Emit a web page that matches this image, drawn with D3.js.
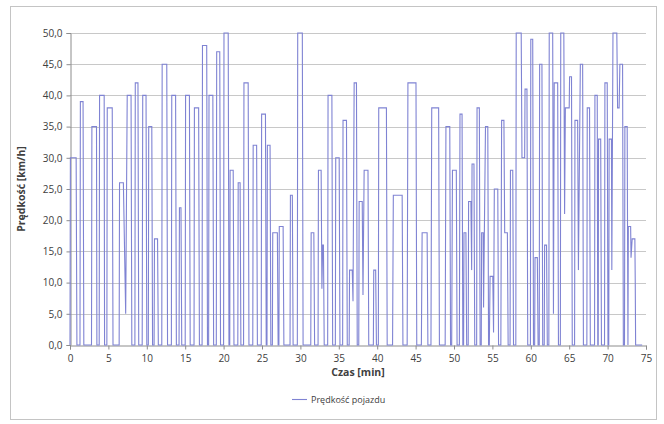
<!DOCTYPE html>
<html>
<head>
<meta charset="utf-8">
<script src="https://cdn.jsdelivr.net/npm/d3@7"></script>
<style>
  body { margin: 0; background: #ffffff; }
  svg { display: block; }
  text { font-family: "Open Sans", "Noto Sans", sans-serif; fill: #404040; }
</style>
</head>
<body>
<svg id="chart" width="664" height="424"></svg>
<script>
// ---- data ----
const timeMin = [
  0,0.05,0.8,0.9, 1.3,1.35,1.7,1.8, 2.8,2.85,3.45,3.5, 3.8,3.85,4.45,4.5,
  4.8,4.85,5.5,5.6, 6.4,6.45,6.95,7.25,7.45,7.95,8.05, 8.45,8.5,8.85,8.95,
  9.4,9.47,9.9,10.0, 10.2,10.25,10.65,10.75, 10.95,11.0,11.4,11.5,
  11.95,12.0,12.6,12.7, 13.2,13.25,13.75,13.85, 14.2,14.25,14.45,14.55,
  15.0,15.05,15.55,15.65, 16.15,16.2,16.75,16.85, 17.2,17.25,17.8,17.9,
  18.05,18.1,18.6,18.7, 19.05,19.1,19.5,19.6, 20.0,20.05,20.6,20.7,
  20.8,20.85,21.25,21.35, 21.85,21.9,22.15,22.25, 22.6,22.65,23.2,23.3,
  23.8,23.85,24.3,24.4, 24.9,24.95,25.45,25.55, 25.65,25.7,26.05,26.15,
  26.35,26.4,27.0,27.1, 27.2,27.25,27.75,27.85, 28.65,28.7,28.95,29.05,
  29.6,29.65,30.25,30.35, 31.35,31.4,31.75,31.85,
  32.3,32.35,32.7,32.8,32.9,33.0,33.1, 33.55,33.6,34.1,34.2,
  34.55,34.6,35.05,35.15, 35.5,35.55,36.0,36.1,
  36.35,36.4,36.75,36.85,37.0,37.3,37.4,
  37.6,37.65,38.05,38.15,38.3,38.8,38.9,
  39.5,39.55,39.8,39.9, 40.15,40.2,41.2,41.3, 42.0,42.1,43.25,43.35,
  43.9,44.0,45.05,45.15, 45.75,45.85,46.5,46.6, 47.0,47.1,48.0,48.1,
  48.85,48.95,49.45,49.55, 49.7,49.8,50.3,50.4, 50.7,50.78,51.05,51.15,
  51.25,51.3,51.55,51.65, 51.85,51.9,52.2,52.3,52.35,52.6,52.7,
  52.95,53.0,53.3,53.4, 53.55,53.6,53.8,53.85,54.1,54.4,54.5,
  54.6,54.7,55.05,55.15,55.25,55.7,55.8,
  56.1,56.2,56.5,56.6,56.95,57.05, 57.3,57.35,57.65,57.75,
  58.05,58.1,58.75,58.85,59.2,59.25,59.5,59.6,
  59.95,60.0,60.25,60.35, 60.5,60.55,60.85,60.95, 61.1,61.15,61.45,61.55,
  61.75,61.8,62.05,62.15, 62.35,62.4,62.85,62.95,63.05,63.5,63.6,
  63.85,63.9,64.3,64.4,64.5,65.0,65.05,65.3,65.4,
  65.7,65.75,66.1,66.2,66.45,66.75,66.85, 67.3,67.35,67.65,67.75,
  68.3,68.35,68.65,68.72,68.78,68.82,69.1,69.2,
  69.6,69.65,69.95,70.05, 70.15,70.2,70.5,70.55,70.7,71.2,71.3,71.5,71.6,71.95,72.05,
  72.2,72.25,72.55,72.65,72.7,73.0,73.05,73.2,73.55,73.6,73.65,74.5
];
const speedKmh = [
  0,30,30,0, 0,39,39,0, 0,35,35,0, 0,40,40,0,
  0,38,38,0, 0,26,26,5,40,40,0, 0,42,42,0,
  0,40,40,0, 0,35,35,0, 0,17,17,0,
  0,45,45,0, 0,40,40,0, 0,22,22,0,
  0,40,40,0, 0,38,38,0, 0,48,48,0,
  0,40,40,0, 0,47,47,0, 0,50,50,0,
  0,28,28,0, 0,26,26,0, 0,42,42,0,
  0,32,32,0, 0,37,37,0, 0,32,32,0,
  0,18,18,0, 0,19,19,0, 0,24,24,0,
  0,50,50,0, 0,18,18,0,
  0,28,28,9,16,16,0, 0,40,40,0,
  0,30,30,0, 0,36,36,0,
  0,12,12,7,42,42,0,
  0,23,23,8,28,28,0,
  0,12,12,0, 0,38,38,0, 0,24,24,0,
  0,42,42,0, 0,18,18,0, 0,38,38,0,
  0,35,35,0, 0,28,28,0, 0,37,37,0,
  0,18,18,0, 0,23,23,12,29,29,0,
  0,38,38,0, 0,18,18,6,35,35,0,
  0,11,11,2,25,25,0,
  0,36,36,18,18,0, 0,28,28,0,
  0,50,50,30,30,41,41,0,
  0,49,49,0, 0,14,14,0, 0,45,45,0,
  0,16,16,0, 0,50,50,5,42,42,0,
  0,50,50,21,38,38,43,43,0,
  0,36,36,12,45,45,0, 0,38,38,0,
  0,40,40,0,0,33,33,0,
  0,42,42,0, 0,33,33,12,50,50,38,38,45,45,0,
  0,35,35,0,19,19,14,17,17,10,0,0
];
const xTickValues = [0,5,10,15,20,25,30,35,40,45,50,55,60,65,70,75];
const yTickValues = [0,5,10,15,20,25,30,35,40,45,50];
const xTitle = "Czas [min]";
const yTitle = "Prędkość [km/h]";
const seriesName = "Prędkość pojazdu";

// ---- drawing ----
const svg = d3.select("#chart");
const W = 664, H = 424;
const plot = { left: 70, right: 646, top: 33, bottom: 345 };

svg.append("rect").attr("x", 0).attr("y", 0).attr("width", W).attr("height", H).attr("fill", "#ffffff");
svg.append("rect").attr("x", 10.5).attr("y", 6.5).attr("width", 646).attr("height", 413)
  .attr("fill", "none").attr("stroke", "#c4c4c4").attr("stroke-width", 1);

const x = d3.scaleLinear().domain([0, 75]).range([plot.left, plot.right]);
const y = d3.scaleLinear().domain([0, 50]).range([plot.bottom, plot.top]);

// gridlines
svg.append("g").selectAll("line").data(yTickValues.filter(v => v > 0)).join("line")
  .attr("x1", plot.left).attr("x2", plot.right)
  .attr("y1", d => Math.round(y(d)) + 0.5).attr("y2", d => Math.round(y(d)) + 0.5)
  .attr("stroke", "#c8c8c8").attr("stroke-width", 1);

// y axis
const yAxis = svg.append("g").attr("transform", `translate(${plot.left + 0.5},0)`)
  .call(d3.axisLeft(y).tickValues(yTickValues).tickSize(4).tickPadding(4)
    .tickFormat(d => d3.format(".1f")(d).replace(".", ",")));
yAxis.select(".domain").attr("stroke", "#8c8c8c");
yAxis.selectAll(".tick line").attr("stroke", "#8c8c8c");
yAxis.selectAll("text").attr("font-size", 10).attr("fill", "#404040")
  .style("font-family", "'Open Sans', sans-serif");

// x axis
const xAxis = svg.append("g").attr("transform", `translate(0,${plot.bottom + 0.5})`)
  .call(d3.axisBottom(x).tickValues(xTickValues).tickSize(4).tickPadding(5));
xAxis.select(".domain").attr("stroke", "#8c8c8c");
xAxis.selectAll(".tick line").attr("stroke", "#8c8c8c");
xAxis.selectAll("text").attr("font-size", 10).attr("fill", "#404040")
  .style("font-family", "'Open Sans', sans-serif");

// series line
const pts = timeMin.map((t, i) => [t, speedKmh[i]]);
const line = d3.line().x(d => x(d[0])).y(d => y(d[1]));
svg.append("path").datum(pts)
  .attr("d", line)
  .attr("fill", "none")
  .attr("stroke", "#7f83d3")
  .attr("stroke-width", 1.1)
  .attr("stroke-linejoin", "miter");

// titles
svg.append("text").attr("x", (plot.left + plot.right) / 2).attr("y", 376)
  .attr("text-anchor", "middle").attr("font-size", 10.5).attr("font-weight", "bold")
  .attr("fill", "#333").text(xTitle);
svg.append("text")
  .attr("transform", `translate(25,${(plot.top + plot.bottom) / 2}) rotate(-90)`)
  .attr("text-anchor", "middle").attr("font-size", 10.5).attr("font-weight", "bold")
  .attr("fill", "#333").text(yTitle);

// legend
const lg = svg.append("g").attr("transform", "translate(292,399)");
lg.append("line").attr("x1", 0).attr("x2", 15).attr("y1", 0.5).attr("y2", 0.5)
  .attr("stroke", "#7f83d3").attr("stroke-width", 1.1);
lg.append("text").attr("x", 19).attr("y", 3.5).attr("font-size", 9).attr("fill", "#404040").text(seriesName);
</script>
</body>
</html>
